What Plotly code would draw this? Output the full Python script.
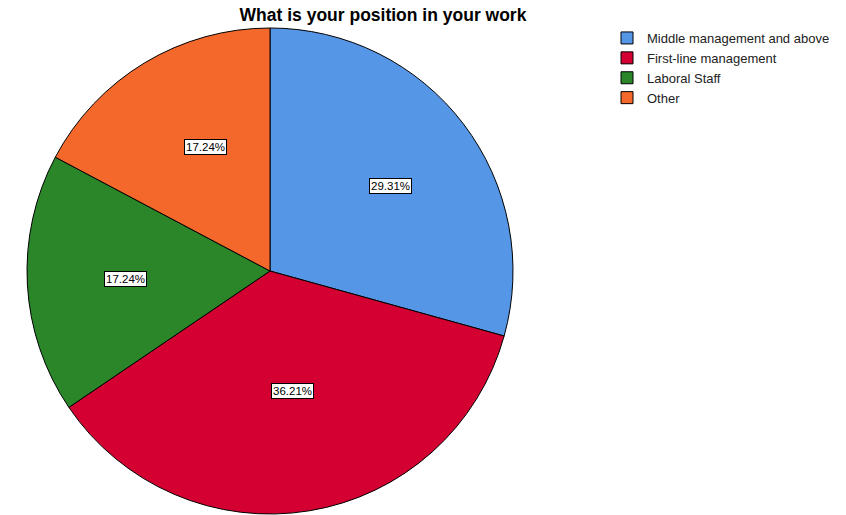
import math
import plotly.graph_objects as go

categories = ["Middle management and above", "First-line management", "Laboral Staff", "Other"]
counts = [17, 21, 10, 10]
colors = ["#5596E6", "#D50032", "#2A8628", "#F4692B"]
title_text = "What is your position in your work"

W, H = 846, 515
top_px = 28
R = (H - top_px - 1) / 2.0
cx_px, cy_px = 270, top_px + R

fig = go.Figure()
fig.add_trace(go.Pie(
    labels=categories,
    values=counts,
    sort=False,
    direction="clockwise",
    rotation=0,
    marker=dict(colors=colors, line=dict(color="black", width=1)),
    textinfo="none",
    hoverinfo="label+percent",
    domain=dict(x=[(cx_px - R) / W, (cx_px + R) / W], y=[1 / H, 1 - top_px / H]),
))

# percentage labels at slice centroids, derived from the data
total = sum(counts)
start = 0.0
annotations = []
for v in counts:
    frac = v / total
    half = frac * math.pi
    mid = (start + frac / 2) * 2 * math.pi
    d = (2.0 / 3.0) * R * math.sin(half) / half
    x_px = cx_px + d * math.sin(mid) * 1.08
    y_px = cy_px - d * math.cos(mid)
    annotations.append(dict(
        x=x_px / W, y=1 - y_px / H, xref="paper", yref="paper",
        text=f"{frac*100:.2f}%", showarrow=False,
        font=dict(family="Liberation Sans, Arial", size=11.5, color="black"),
        bgcolor="white", bordercolor="black", borderwidth=1, borderpad=1,
    ))
    start += frac

fig.update_layout(
    width=W, height=H,
    margin=dict(l=0, r=0, t=0, b=0),
    paper_bgcolor="white", plot_bgcolor="white",
    title=dict(text="<b>" + title_text + "</b>", x=383 / W, xanchor="center",
               y=1 - 15 / H, yanchor="middle", yref="container",
               font=dict(family="Liberation Sans, Arial", size=17.5, color="black")),
    legend=dict(x=607 / W, y=1 - 23 / H, xanchor="left", yanchor="top",
                font=dict(family="Liberation Sans, Arial", size=13, color="#222"),
                tracegroupgap=0, itemclick=False),
    annotations=annotations,
    showlegend=True,
)

fig.write_html("out.html")
